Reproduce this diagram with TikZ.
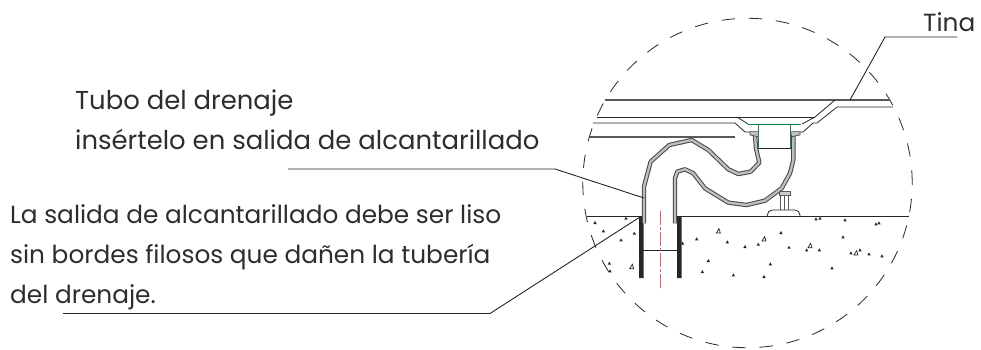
\documentclass[tikz,border=0pt]{standalone}
\usepackage{fontspec}
\setmainfont{Poppins}
\definecolor{txt}{RGB}{45,45,45}
\definecolor{pipegray}{RGB}{70,70,70}
\definecolor{pipefill}{RGB}{190,190,190}
\definecolor{drgreen}{RGB}{20,130,70}
\definecolor{axisred}{RGB}{225,90,90}
\tikzset{
  lbl/.style={text=txt,anchor=base west,inner sep=0pt},
  lblA/.style={lbl,font=\fontsize{25.9}{33}\selectfont},
  lblB/.style={lbl,font=\fontsize{24.8}{33}\selectfont},
  thin line/.style={draw=black!85,line width=0.8pt},
  gray line/.style={draw=black!65,line width=1.1pt},
  leader/.style={draw=black!85,line width=0.9pt},
  pipeo/.style={draw=pipegray,line width=4.4pt,line join=round},
  pipei/.style={draw=pipefill,line width=2.4pt,line join=round},
}
\begin{document}
\begin{tikzpicture}[x=1pt,y=-1pt]
\useasboundingbox (0,0) rectangle (981,349);
% labels
\node[lblB] (tina) at (923,31) {Tina};
\node[lblA] (tubo1) at (75,109) {Tubo del drenaje};
\node[lblA] (tubo2) at (75,149) {insértelo en salida de alcantarillado};
\node[lblB] (sal1) at (10,223) {La salida de alcantarillado debe ser liso};
\node[lblB] (sal2) at (10,263) {sin bordes filosos que dañen la tubería};
\node[lblB] (sal3) at (10,303) {del drenaje.};
% dashed circle
\draw[draw=black!85,line width=0.8pt,dash pattern=on 13.4pt off 13.8pt,dash phase=11.4pt] (747.5,183) circle (164.7);
% floor
\draw[thin line,line width=1pt] (587,216) -- (640,216) (680,216) -- (909,216);
\fill[black!85] (639,216) rectangle (643.5,278) (677,216) rectangle (681.5,278);
\draw[thin line] (643,250) -- (677,250);
\draw[draw=axisred,line width=0.8pt,dash pattern=on 14pt off 2pt on 3pt off 2pt] (660,211) -- (660,290);
% aggregate
\begin{scope}[shift={(590,200)},xscale=0.3333,yscale=0.3333]
\foreach \p in {(15,68),(40,93),(108,55),(133,100),(93,120),(58,190),(60,213),(278,130),(320,117),(412,126),(465,140),(505,133),(573,98),(597,142),(650,150),(688,150),(355,182),(337,215),(430,225),(522,230),(541,192),(678,57),(690,55),(783,159),(837,162),(876,168),(726,204),(759,111),(765,60),(858,72),(867,69),(810,150)}
  \fill[black!85,shift={\p}] (-5,4) -- (0,-5) -- (5,4) -- cycle;
\foreach \p in {(125,200),(385,93),(522,117),(660,137),(798,159)}
  \draw[black!85,line width=0.7pt,shift={\p}] (-6,6) -- (2,-7) -- (6,6) -- cycle;
\end{scope}
% tub
\draw[gray line] (605,100) -- (890,100);
\draw[thin line] (597,117) -- (815,117);
\draw[thin line] (737,117) -- (748,124);
\draw[thin line] (593,123) -- (735,123) -- (745,132) -- (750,132);
\draw[gray line] (590,137) -- (735,137);
\draw[thin line] (893,107) -- (837,107) -- (817,123) -- (813,123) -- (803,132) -- (799,132);
\draw[thin line] (835,100) -- (815,117) -- (802,124);
% pipes in zoom coordinates
\begin{scope}[shift={(580,80)},xscale=0.3333,yscale=0.3333]
% support
\draw[gray line,line width=0.8pt] (600,335) -- (600,390) (612,335) -- (612,390) (624,335) -- (624,390);
\draw[gray line,fill=black!20,line width=0.8pt] (597,335) rectangle (630,347);
\draw[thin line,fill=white,rounded corners=5pt] (562,408) -- (562,390) -- (660,390) -- (660,408);
\draw[pipeo] (192,430) -- (192,320) -- (212,245) -- (268,195) -- (335,180) -- (385,210) -- (445,268) -- (475,282) -- (512,275) -- (538,248) -- (528,205) -- (525,165);
\draw[pipei] (192,430) -- (192,320) -- (212,245) -- (268,195) -- (335,180) -- (385,210) -- (445,268) -- (475,282) -- (512,275) -- (538,248) -- (528,205) -- (525,165);
\draw[pipeo] (285,430) -- (285,295) -- (292,275) -- (315,268) -- (340,280) -- (375,325) -- (445,368) -- (500,375) -- (555,362) -- (605,325) -- (630,280) -- (640,240) -- (640,165);
\draw[pipei] (285,430) -- (285,295) -- (292,275) -- (315,268) -- (340,280) -- (375,325) -- (445,368) -- (500,375) -- (555,362) -- (605,325) -- (630,280) -- (640,240) -- (640,165);
% flanges
\fill[pipefill,draw=pipegray,line width=0.6pt] (510,155) -- (535,155) -- (535,170) -- (510,165) -- cycle;
\fill[pipefill,draw=pipegray,line width=0.6pt] (632,155) -- (660,155) -- (660,165) -- (635,170) -- cycle;
% body
\draw[thin line,fill=white] (535,133) rectangle (632,205);
\draw[draw=drgreen,line width=1.1pt] (535,133) -- (535,205) (632,133) -- (632,205);
\draw[draw=drgreen,line width=1.4pt] (505,133) -- (662,133);
\end{scope}
% leaders
\coordinate (ta) at (850,100); \coordinate (tb) at (885,37); \coordinate (tc) at (957,37);
\draw[leader] (ta) -- (tb) -- (tc);
\coordinate (ua) at (288,169); \coordinate (ub) at (555,169); \coordinate (uc) at (644,198);
\draw[leader] (ua) -- (ub) -- (uc);
\coordinate (sa) at (63,313.5); \coordinate (sb) at (490,313.5); \coordinate (sc) at (640,217);
\draw[leader] (sa) -- (sb) -- (sc);
\end{tikzpicture}
\end{document}
